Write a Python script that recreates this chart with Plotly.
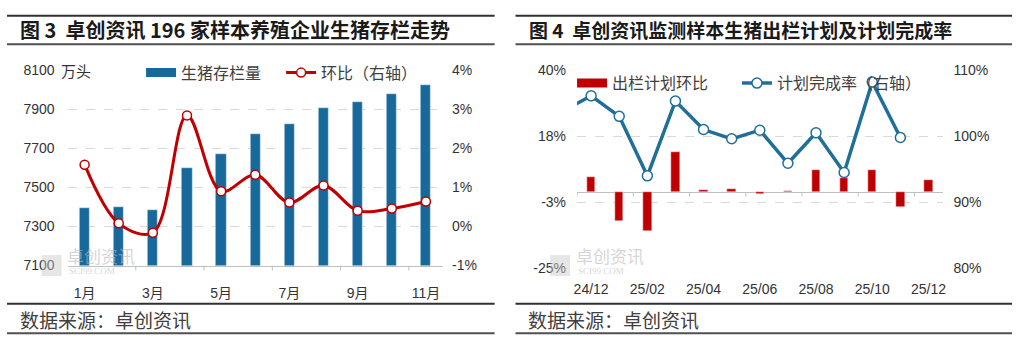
import plotly.graph_objects as go

W, H = 1025, 348
def fx(px): return px / W
def fy(py): return 1 - py / H

# ---------------- Chart 3 data ----------------
months = ["1月", "2月", "3月", "4月", "5月", "6月", "7月", "8月", "9月", "10月", "11月"]
stock = [7392, 7400, 7385, 7598, 7668, 7772, 7822, 7908, 7935, 7975, 8025]
stock_mom = [1.58, 0.08, -0.16, 2.84, 0.90, 1.32, 0.61, 1.05, 0.40, 0.46, 0.64]
left_ticks = [7100, 7300, 7500, 7700, 7900, 8100]
right_ticks = [-1, 0, 1, 2, 3, 4]
right_ticktext = ["-1%", "0%", "1%", "2%", "3%", "4%"]
month_ticks = ["1月", "3月", "5月", "7月", "9月", "11月"]

# ---------------- Chart 4 data ----------------
periods = ["24/11", "24/12", "25/01", "25/02", "25/03", "25/04", "25/05", "25/06",
           "25/07", "25/08", "25/09", "25/10", "25/11", "25/12"]
plan_mom = [None, 5.1, -9.3, -12.8, 13.2, 0.6, 1.0, -0.6, 0.5, 7.4, 4.6, 7.4, -4.8, 4.1]
completion = [103.8, 106.1, 103.0, 94.0, 105.3, 101.0, 99.6, 100.9, 95.9, 100.5, 94.5, 108.2, 99.8, None]
l4_ticks = [-25, -3.333, 18.333, 40]
l4_ticktext = ["-25%", "-3%", "18%", "40%"]
r4_ticks = [80, 90, 100, 110]
r4_ticktext = ["80%", "90%", "100%", "110%"]
period_ticks = ["24/12", "25/02", "25/04", "25/06", "25/08", "25/10", "25/12"]

BLUE = "#17689B"
LBLUE = "#1F6F98"
RED = "#C00000"
FONT = "Liberation Sans, Noto Sans CJK SC, sans-serif"
CJK = "Noto Sans CJK SC, sans-serif"
TXT = "#333333"
GRID = "#D9D9D9"
WM = "rgba(185,185,185,0.6)"

fig = go.Figure()

# Chart 3 traces
fig.add_trace(go.Bar(x=months, y=stock, marker_color=BLUE, width=0.3,
                     xaxis="x", yaxis="y", showlegend=False, name="生猪存栏量"))
fig.add_trace(go.Scatter(x=[None], y=[None], mode="lines", line=dict(color=BLUE, width=9),
                         name="生猪存栏量", legend="legend", xaxis="x", yaxis="y"))
fig.add_trace(go.Scatter(x=months, y=stock_mom, mode="lines+markers", name="环比（右轴）",
                         line=dict(color=RED, width=3, shape="spline", smoothing=1.0),
                         marker=dict(size=9, color="white", line=dict(color=RED, width=1.5)),
                         xaxis="x", yaxis="y2", legend="legend2"))

# Chart 4 traces
fig.add_trace(go.Bar(x=periods, y=plan_mom, marker_color=RED, width=0.3,
                     xaxis="x2", yaxis="y3", showlegend=False, name="出栏计划环比"))
fig.add_trace(go.Scatter(x=[None], y=[None], mode="lines", line=dict(color=RED, width=9),
                         name="出栏计划环比", legend="legend3", xaxis="x2", yaxis="y3"))
fig.add_trace(go.Scatter(x=periods, y=completion, mode="lines+markers", name="计划完成率（右轴）",
                         line=dict(color=LBLUE, width=3.5),
                         marker=dict(size=10, color="white", line=dict(color=LBLUE, width=1.5)),
                         xaxis="x2", yaxis="y4", legend="legend4"))

tickfont = dict(family=FONT, size=14, color=TXT)

def leg(xpx, ypx):
    return dict(orientation="h", x=fx(xpx), y=fy(ypx), xanchor="left", yanchor="top",
                font=dict(family=CJK, size=16, color="#404040"),
                bgcolor="rgba(0,0,0,0)", itemwidth=30)

fig.update_layout(
    width=W, height=H, margin=dict(l=0, r=0, t=0, b=0),
    paper_bgcolor="white", plot_bgcolor="rgba(0,0,0,0)",
    bargap=0,
    xaxis=dict(domain=[fx(65), fx(443)], anchor="y", type="category",
               tickvals=month_ticks, ticktext=month_ticks, ticks="",
               showline=True, linecolor="#BFBFBF", linewidth=1,
               tickfont=tickfont, ticklabelstandoff=15, showgrid=False,
               range=[-0.5, len(months) - 0.5]),
    yaxis=dict(domain=[fy(270), fy(65)], anchor="x", range=[7100, 8100],
               tickvals=left_ticks, ticks="", showgrid=True, gridcolor=GRID,
               griddash="dash", gridwidth=1, zeroline=False, tickfont=tickfont,
               ticklabelstandoff=12),
    yaxis2=dict(overlaying="y", anchor="x", side="right", range=[-1, 4],
                tickvals=right_ticks, ticktext=right_ticktext, ticks="",
                showgrid=False, zeroline=False, tickfont=tickfont,
                ticklabelstandoff=8),
    xaxis2=dict(domain=[fx(578), fx(946)], anchor="y3", type="category",
                tickvals=period_ticks, ticktext=period_ticks, ticks="",
                showline=False, tickfont=tickfont, ticklabelstandoff=11,
                showgrid=False, range=[0.5, len(periods) - 0.5]),
    yaxis3=dict(domain=[fy(273), fy(65)], anchor="x2", range=[-25, 40],
                tickvals=l4_ticks, ticktext=l4_ticktext, ticks="",
                showgrid=True, gridcolor=GRID, griddash="dash", gridwidth=1,
                zeroline=True, zerolinecolor="#BFBFBF", zerolinewidth=1,
                tickfont=tickfont, ticklabelstandoff=10),
    yaxis4=dict(overlaying="y3", anchor="x2", side="right", range=[80, 110],
                tickvals=r4_ticks, ticktext=r4_ticktext, ticks="",
                showgrid=False, zeroline=False, tickfont=tickfont,
                ticklabelstandoff=10),
    legend=leg(139, 50),
    legend2=leg(280, 50),
    legend3=leg(573, 61),
    legend4=leg(739, 61),
)

shapes = []
# panel rules
for (a, b) in [(4, 495), (516, 1016)]:
    for yy, col in [(8, "#303030"), (38, "#505050"), (310, "#303030"), (341, "#505050")]:
        shapes.append(dict(type="line", xref="paper", yref="paper", x0=fx(a), x1=fx(b),
                           y0=fy(yy), y1=fy(yy), line=dict(color=col, width=2)))
# small axis tick marks at category boundaries (every second category)
for i in range(1, len(months) - 1, 2):
    shapes.append(dict(type="line", xref="x", yref="y domain", x0=i + 0.5, x1=i + 0.5,
                       y0=0, y1=-0.025, line=dict(color="#BFBFBF", width=1)))
for i in range(0, len(periods) - 1, 2):
    shapes.append(dict(type="line", xref="x2", yref="y3", x0=i + 0.5, x1=i + 0.5,
                       y0=0, y1=-1.4, line=dict(color="#BFBFBF", width=1)))
# watermark logo squares
for x0 in (39, 551):
    shapes.append(dict(type="rect", xref="paper", yref="paper", x0=fx(x0), x1=fx(x0 + 20),
                       y0=fy(281), y1=fy(259), line=dict(width=0), fillcolor="rgba(200,200,200,0.45)"))
fig.update_layout(shapes=shapes)

annotations = [
    dict(text="<b>图 3  卓创资讯 196 家样本养殖企业生猪存栏走势</b>", x=fx(15), y=fy(23),
         xref="paper", yref="paper", xanchor="left", yanchor="middle", showarrow=False,
         font=dict(family=CJK, size=20, color="#1A1A1A")),
    dict(text="<b>图 4  卓创资讯监测样本生猪出栏计划及计划完成率</b>", x=fx(528), y=fy(23),
         xref="paper", yref="paper", xanchor="left", yanchor="middle", showarrow=False,
         font=dict(family=CJK, size=19, color="#1A1A1A")),
    dict(text="数据来源：卓创资讯", x=fx(15), y=fy(326), xref="paper", yref="paper",
         xanchor="left", yanchor="middle", showarrow=False,
         font=dict(family=CJK, size=19, color="#404040")),
    dict(text="数据来源：卓创资讯", x=fx(527), y=fy(326), xref="paper", yref="paper",
         xanchor="left", yanchor="middle", showarrow=False,
         font=dict(family=CJK, size=19, color="#404040")),
    dict(text="万头", x=fx(56), y=fy(66), xref="paper", yref="paper",
         xanchor="left", yanchor="middle", showarrow=False,
         font=dict(family=CJK, size=15, color=TXT)),
]
# watermark texts
for x0 in (62, 575):
    annotations.append(dict(text="卓创资讯", x=fx(x0), y=fy(259), xref="paper", yref="paper",
                            xanchor="left", yanchor="middle", showarrow=False,
                            font=dict(family=CJK, size=17, color=WM)))
    annotations.append(dict(text="SCI99.COM", x=fx(x0 + 2), y=fy(276), xref="paper", yref="paper",
                            xanchor="left", yanchor="middle", showarrow=False,
                            font=dict(family="Liberation Serif", size=9, color=WM)))
fig.update_layout(annotations=annotations)

fig.write_html("out.html")
